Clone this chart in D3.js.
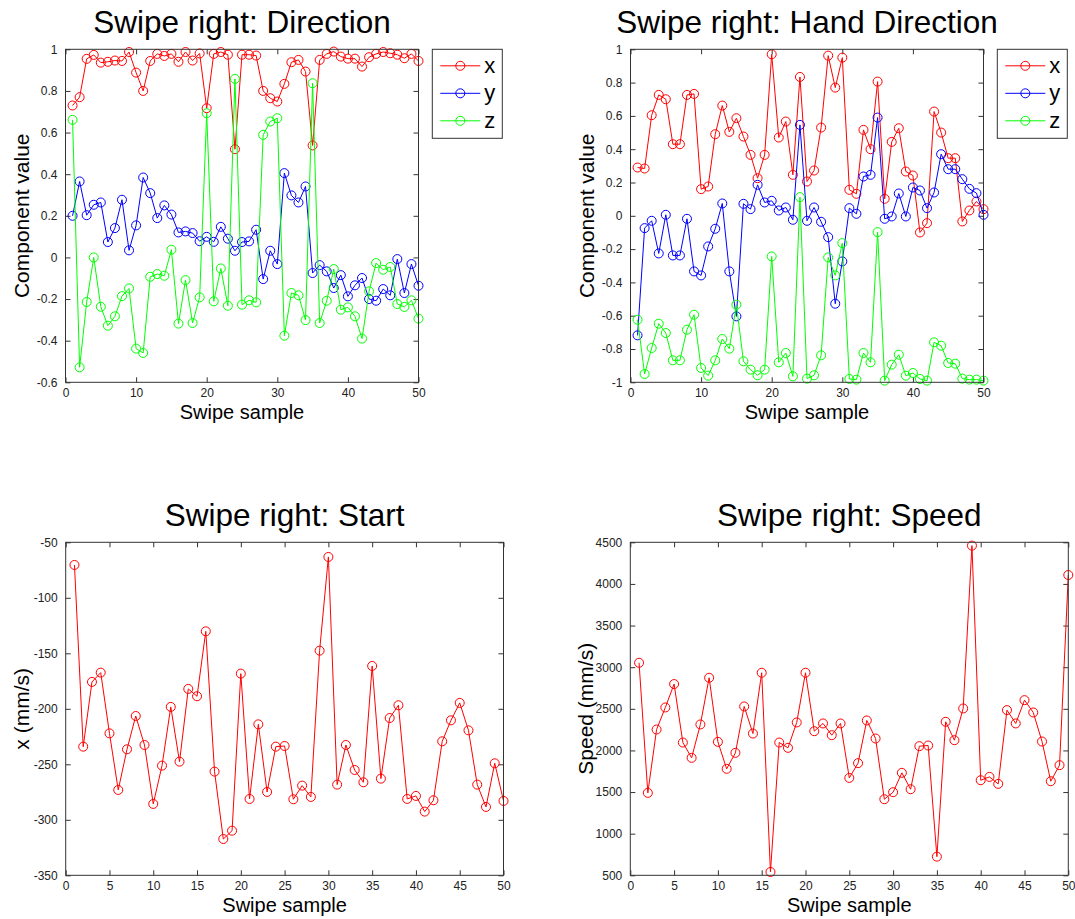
<!DOCTYPE html>
<html>
<head>
<meta charset="utf-8">
<script src="https://cdn.jsdelivr.net/npm/d3@7"></script>
<style>
  body { margin: 0; background: #fff; }
  text { font-family: "Liberation Sans", Arial, sans-serif; }
</style>
</head>
<body>
<svg id="chart" width="1075" height="919"></svg>
<script>
// sample index 1..50
var samples = d3.range(1, 51);

// Swipe right: Direction
var dirX = [0.73,0.77,0.954,0.973,0.936,0.94,0.946,0.944,0.987,0.888,
  0.80,0.944,0.978,0.968,0.978,0.94,0.987,0.946,0.98,0.717,
  0.978,0.987,0.974,0.52,0.974,0.974,0.97,0.80,0.765,0.749,
  0.834,0.938,0.949,0.893,0.538,0.949,0.978,0.989,0.965,0.955,
  0.955,0.917,0.962,0.978,0.987,0.981,0.974,0.957,0.978,0.944];
var dirY = [0.20,0.365,0.203,0.253,0.264,0.074,0.141,0.277,0.034,0.154,
  0.384,0.309,0.189,0.25,0.206,0.12,0.125,0.117,0.078,0.099,
  0.075,0.147,0.09,0.032,0.074,0.077,0.133,-0.104,0.032,-0.032,
  0.405,0.298,0.264,0.341,-0.075,-0.037,-0.067,-0.147,-0.085,-0.187,
  -0.134,-0.099,-0.2,-0.208,-0.152,-0.182,-0.008,-0.171,-0.032,-0.136];
var dirZ = [0.661,-0.528,-0.214,0.0,-0.237,-0.328,-0.283,-0.186,-0.149,-0.438,
  -0.459,-0.093,-0.08,-0.088,0.037,-0.318,-0.109,-0.315,-0.192,0.693,
  -0.211,-0.053,-0.232,0.858,-0.227,-0.206,-0.216,0.589,0.653,0.669,
  -0.376,-0.171,-0.182,-0.301,0.837,-0.315,-0.208,-0.056,-0.251,-0.24,
  -0.283,-0.39,-0.163,-0.027,-0.059,-0.046,-0.224,-0.238,-0.206,-0.294];

// Swipe right: Hand Direction
var handX = [0.29,0.284,0.604,0.726,0.70,0.43,0.43,0.726,0.732,0.16,
  0.176,0.49,0.662,0.504,0.586,0.476,0.366,0.226,0.366,0.97,
  0.47,0.566,0.246,0.834,0.206,0.272,0.53,0.962,0.77,0.95,
  0.156,0.132,0.516,0.40,0.806,0.102,0.444,0.526,0.266,0.242,
  -0.1,-0.044,0.626,0.50,0.346,0.346,-0.034,0.032,0.086,0.04];
var handY = [-0.718,-0.074,-0.03,-0.226,0.006,-0.238,-0.238,-0.018,-0.334,-0.358,
  -0.184,-0.078,0.074,-0.334,-0.604,0.072,0.04,0.186,0.08,0.09,
  0.032,0.05,-0.024,0.546,-0.03,0.05,-0.036,-0.128,-0.528,-0.274,
  0.046,0.012,0.236,0.246,0.59,-0.018,-0.004,0.134,-0.004,0.17,
  0.152,0.046,0.14,0.37,0.28,0.28,0.22,0.162,0.136,0.006];
var handZ = [-0.624,-0.95,-0.794,-0.648,-0.704,-0.868,-0.868,-0.684,-0.594,-0.914,
  -0.96,-0.868,-0.74,-0.798,-0.534,-0.874,-0.924,-0.958,-0.924,-0.244,
  -0.88,-0.824,-0.964,0.112,-0.978,-0.958,-0.838,-0.25,-0.358,-0.164,
  -0.98,-0.984,-0.824,-0.88,-0.098,-0.99,-0.894,-0.834,-0.96,-0.944,
  -0.98,-0.99,-0.76,-0.78,-0.884,-0.888,-0.978,-0.984,-0.984,-0.99];

// Swipe right: Start
var startX = [-70.4,-234.1,-175.8,-167.4,-222.1,-273.1,-236.5,-206.5,-232.6,-285.7,
  -251.2,-198.3,-247.6,-182.1,-188.7,-130.2,-256.6,-317.3,-309.8,-168.3,
  -281.2,-214,-274.9,-234.1,-233.5,-281.5,-269.2,-279.4,-147.6,-63.2,
  -268.3,-232.6,-255.1,-266.2,-161.4,-262.9,-208.3,-196.8,-281.2,-278.5,
  -292.6,-282.4,-229.3,-210.4,-194.7,-219.4,-268.3,-288.4,-249.1,-283];

// Swipe right: Speed
var speed = [3053,1490,2251,2516,2797,2095,1911,2312,2873,2103,
  1779,1971,2528,2203,2933,540,2095,2031,2336,2933,
  2231,2324,2183,2324,1670,1847,2360,2143,1414,1498,
  1731,1534,2051,2059,724,2344,2123,2504,4460,1642,
  1682,1598,2484,2324,2604,2456,2107,1630,1823,4107];

var seriesNames = ["x", "y", "z"];
var seriesColors = ["#ff0000", "#0000ff", "#00ff00"];

var svg = d3.select("#chart");

function fmt(d) { return String(+d.toFixed(2)); }

var drawPanel = function(p) {
  var x = d3.scaleLinear().domain(p.xDomain).range([p.left, p.right]);
  var y = d3.scaleLinear().domain(p.yDomain).range([p.bottom, p.top]);
  var g = svg.append("g");

  g.append("rect")
    .attr("x", p.left).attr("y", p.top)
    .attr("width", p.right - p.left).attr("height", p.bottom - p.top)
    .attr("fill", "#fff");

  // axes with inward ticks on all four sides
  var axB = g.append("g").attr("transform", "translate(0," + p.bottom + ")")
    .call(d3.axisBottom(x).tickValues(p.xTicks).tickSizeInner(-5).tickSizeOuter(0).tickPadding(6).tickFormat(fmt));
  var axT = g.append("g").attr("transform", "translate(0," + p.top + ")")
    .call(d3.axisTop(x).tickValues(p.xTicks).tickSizeInner(-5).tickSizeOuter(0).tickFormat(""));
  var axL = g.append("g").attr("transform", "translate(" + p.left + ",0)")
    .call(d3.axisLeft(y).tickValues(p.yTicks).tickSizeInner(-5).tickSizeOuter(0).tickPadding(8).tickFormat(fmt));
  var axR = g.append("g").attr("transform", "translate(" + p.right + ",0)")
    .call(d3.axisRight(y).tickValues(p.yTicks).tickSizeInner(-5).tickSizeOuter(0).tickFormat(""));
  [axB, axT, axL, axR].forEach(function(a) {
    a.select(".domain").remove();
    a.selectAll("line").attr("stroke", "#333");
    a.selectAll("text").attr("font-size", 12).attr("fill", "#222")
      .style("font-family", "'Liberation Sans', Arial, sans-serif");
  });

  p.series.forEach(function(s, k) {
    var pts = samples.map(function(d, i) { return [d, s[i]]; });
    g.append("path")
      .datum(pts)
      .attr("fill", "none")
      .attr("stroke", p.colors[k])
      .attr("stroke-width", 1)
      .attr("d", d3.line().x(function(d) { return x(d[0]); }).y(function(d) { return y(d[1]); }));
    g.append("g").selectAll("circle")
      .data(pts)
      .enter().append("circle")
      .attr("cx", function(d) { return x(d[0]); })
      .attr("cy", function(d) { return y(d[1]); })
      .attr("r", 4.5)
      .attr("fill", "none")
      .attr("stroke", p.colors[k])
      .attr("stroke-width", 1);
  });

  g.append("rect")
    .attr("x", p.left).attr("y", p.top)
    .attr("width", p.right - p.left).attr("height", p.bottom - p.top)
    .attr("fill", "none").attr("stroke", "#333").attr("stroke-width", 1);

  g.append("text")
    .attr("x", (p.left + p.right) / 2).attr("y", p.top - 16)
    .attr("text-anchor", "middle").attr("font-size", 31.5).attr("fill", "#000")
    .text(p.title);
  g.append("text")
    .attr("x", (p.left + p.right) / 2).attr("y", p.bottom + 37)
    .attr("text-anchor", "middle").attr("font-size", 20).attr("fill", "#000")
    .text("Swipe sample");
  g.append("text")
    .attr("transform", "translate(" + (p.left - 37) + "," + ((p.top + p.bottom) / 2) + ") rotate(-90)")
    .attr("text-anchor", "middle").attr("font-size", 21).attr("fill", "#000")
    .text(p.yLabel);

  if (p.legend) {
    var lg = g.append("g").attr("transform", "translate(" + p.legend[0] + "," + p.legend[1] + ")");
    lg.append("rect").attr("width", 70).attr("height", 89)
      .attr("fill", "#fff").attr("stroke", "#333").attr("stroke-width", 1);
    seriesNames.forEach(function(n, k) {
      var yy = 16.5 + k * 27.5;
      lg.append("line").attr("x1", 8).attr("x2", 48).attr("y1", yy).attr("y2", yy)
        .attr("stroke", p.colors[k]).attr("stroke-width", 1);
      lg.append("circle").attr("cx", 28).attr("cy", yy).attr("r", 4.5)
        .attr("fill", "none").attr("stroke", p.colors[k]);
      lg.append("text").attr("x", 52).attr("y", yy + 7).attr("font-size", 22).attr("fill", "#000").text(n);
    });
  }
};

drawPanel({
  title: "Swipe right: Direction", yLabel: "Component value",
  left: 65.5, right: 418.5, top: 49.3, bottom: 382.3,
  xDomain: [0, 50], yDomain: [-0.6, 1],
  xTicks: [0, 10, 20, 30, 40, 50], yTicks: [-0.6, -0.4, -0.2, 0, 0.2, 0.4, 0.6, 0.8, 1],
  series: [dirX, dirY, dirZ], colors: seriesColors, legend: [432.3, 49.3]
});
drawPanel({
  title: "Swipe right: Hand Direction", yLabel: "Component value",
  left: 630.5, right: 983.5, top: 49.3, bottom: 382.3,
  xDomain: [0, 50], yDomain: [-1, 1],
  xTicks: [0, 10, 20, 30, 40, 50], yTicks: [-1, -0.8, -0.6, -0.4, -0.2, 0, 0.2, 0.4, 0.6, 0.8, 1],
  series: [handX, handY, handZ], colors: seriesColors, legend: [997.3, 49.3]
});
drawPanel({
  title: "Swipe right: Start", yLabel: "x (mm/s)",
  left: 65.7, right: 503.5, top: 542.3, bottom: 875.3,
  xDomain: [0, 50], yDomain: [-350, -50],
  xTicks: [0, 5, 10, 15, 20, 25, 30, 35, 40, 45, 50], yTicks: [-350, -300, -250, -200, -150, -100, -50],
  series: [startX], colors: ["#ff0000"]
});
drawPanel({
  title: "Swipe right: Speed", yLabel: "Speed (mm/s)",
  left: 630.3, right: 1068.3, top: 542.3, bottom: 875.3,
  xDomain: [0, 50], yDomain: [500, 4500],
  xTicks: [0, 5, 10, 15, 20, 25, 30, 35, 40, 45, 50], yTicks: [500, 1000, 1500, 2000, 2500, 3000, 3500, 4000, 4500],
  series: [speed], colors: ["#ff0000"]
});
</script>
</body>
</html>
